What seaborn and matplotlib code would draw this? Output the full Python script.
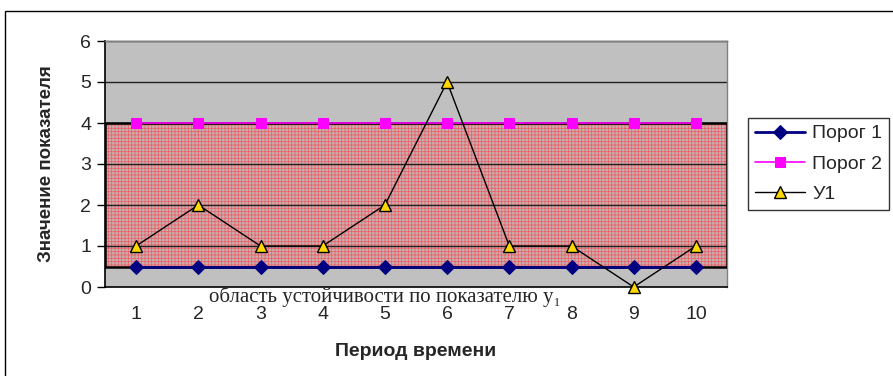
import matplotlib
matplotlib.use("Agg")
import matplotlib.pyplot as plt
import seaborn as sns
import pandas as pd
from matplotlib.patches import Rectangle

periods = [1, 2, 3, 4, 5, 6, 7, 8, 9, 10]
porog1 = [0.5] * 10
porog2 = [4] * 10
y1 = [1, 2, 1, 1, 2, 5, 1, 1, 0, 1]
series_names = ["Порог 1", "Порог 2", "У1"]
y_ticks = [0, 1, 2, 3, 4, 5, 6]

sns.set_theme(style="white")
plt.rcParams['font.family'] = ['Liberation Sans', 'DejaVu Sans']
plt.rcParams['hatch.linewidth'] = 0.6

fig = plt.figure(figsize=(8.93, 3.76), dpi=100)
ax = fig.add_axes([105 / 893, (376 - 287) / 376, (727 - 105) / 893, (287 - 41) / 376])
ax.set_facecolor('#C0C0C0')

ax.set_xlim(0.5, 10.5)
ax.set_ylim(0, 6)

# stability region
ax.add_patch(Rectangle((0.5, 0.5), 10, 3.5, facecolor='#C8B0B0', edgecolor='#E8646A',
                       hatch='+++++', linewidth=0, zorder=1))
# grid lines
for t in y_ticks[1:]:
    ax.axhline(t, color='#202020', linewidth=1.0, zorder=2)
ax.add_patch(Rectangle((0.5, 0.5), 10, 3.5, facecolor='none', edgecolor='black',
                       linewidth=1.8, zorder=3))

df = pd.DataFrame({"Период": periods * 3,
                   "Значение": porog1 + porog2 + y1,
                   "Серия": [series_names[0]] * 10 + [series_names[1]] * 10 + [series_names[2]] * 10})

sns.lineplot(data=df[df["Серия"] == series_names[0]], x="Период", y="Значение", ax=ax,
             color='#000080', marker='D', markersize=7, markeredgecolor='#000080',
             linewidth=2.0, label=series_names[0], zorder=4)
sns.lineplot(data=df[df["Серия"] == series_names[1]], x="Период", y="Значение", ax=ax,
             color='#FF00FF', marker='s', markersize=7, markeredgecolor='#FF00FF',
             linewidth=1.2, label=series_names[1], zorder=4)
sns.lineplot(data=df[df["Серия"] == series_names[2]], x="Период", y="Значение", ax=ax,
             color='black', marker='^', markersize=9, markerfacecolor='#FFD700',
             markeredgecolor='black', markeredgewidth=1.0,
             linewidth=1.0, label=series_names[2], zorder=5)
for l in ax.lines:
    l.set_clip_on(False)

ax.set_xticks(periods)
ax.set_xticklabels([str(p) for p in periods], fontsize=14)
ax.set_xticks([p - 0.5 for p in periods] + [10.5], minor=True)
ax.tick_params(axis='x', which='major', length=0, pad=14)
ax.tick_params(axis='x', which='minor', length=5, width=1, color='black', direction='out')
ax.set_yticks(y_ticks)
ax.set_yticklabels([str(t) for t in y_ticks], fontsize=14)
ax.tick_params(axis='y', length=6, width=1, color='black', direction='out', left=True, pad=4)

for s in ['left', 'bottom']:
    ax.spines[s].set_color('black')
    ax.spines[s].set_linewidth(1.2)
for s in ['right', 'top']:
    ax.spines[s].set_color('#808080')
    ax.spines[s].set_linewidth(1.0)

ax.set_xlabel("Период времени", fontsize=14, fontweight='bold', labelpad=14)
ax.set_ylabel("Значение показателя", fontsize=13.5, fontweight='bold', labelpad=18)

ax.text(5.0, -0.24, "область устойчивости по показателю y₁", ha='center', va='center',
        fontsize=15, family=['Liberation Serif', 'DejaVu Serif'], clip_on=False, zorder=6)

leg = ax.legend(loc='upper left', bbox_to_anchor=(748 / 893, (376 - 118) / 376),
                bbox_transform=fig.transFigure, frameon=True, fontsize=14, borderaxespad=0,
                handlelength=2.6, handletextpad=0.35, borderpad=0.35, labelspacing=0.65,
                fancybox=False)
leg.get_frame().set_edgecolor('black')
leg.get_frame().set_linewidth(1.0)

fig.patches.append(Rectangle((5 / 893, -0.1), 1.0, (376 - 11) / 376 + 0.1, transform=fig.transFigure,
                             fill=False, edgecolor='black', linewidth=1.0))

fig.savefig("out.png", dpi=100, facecolor='white')
